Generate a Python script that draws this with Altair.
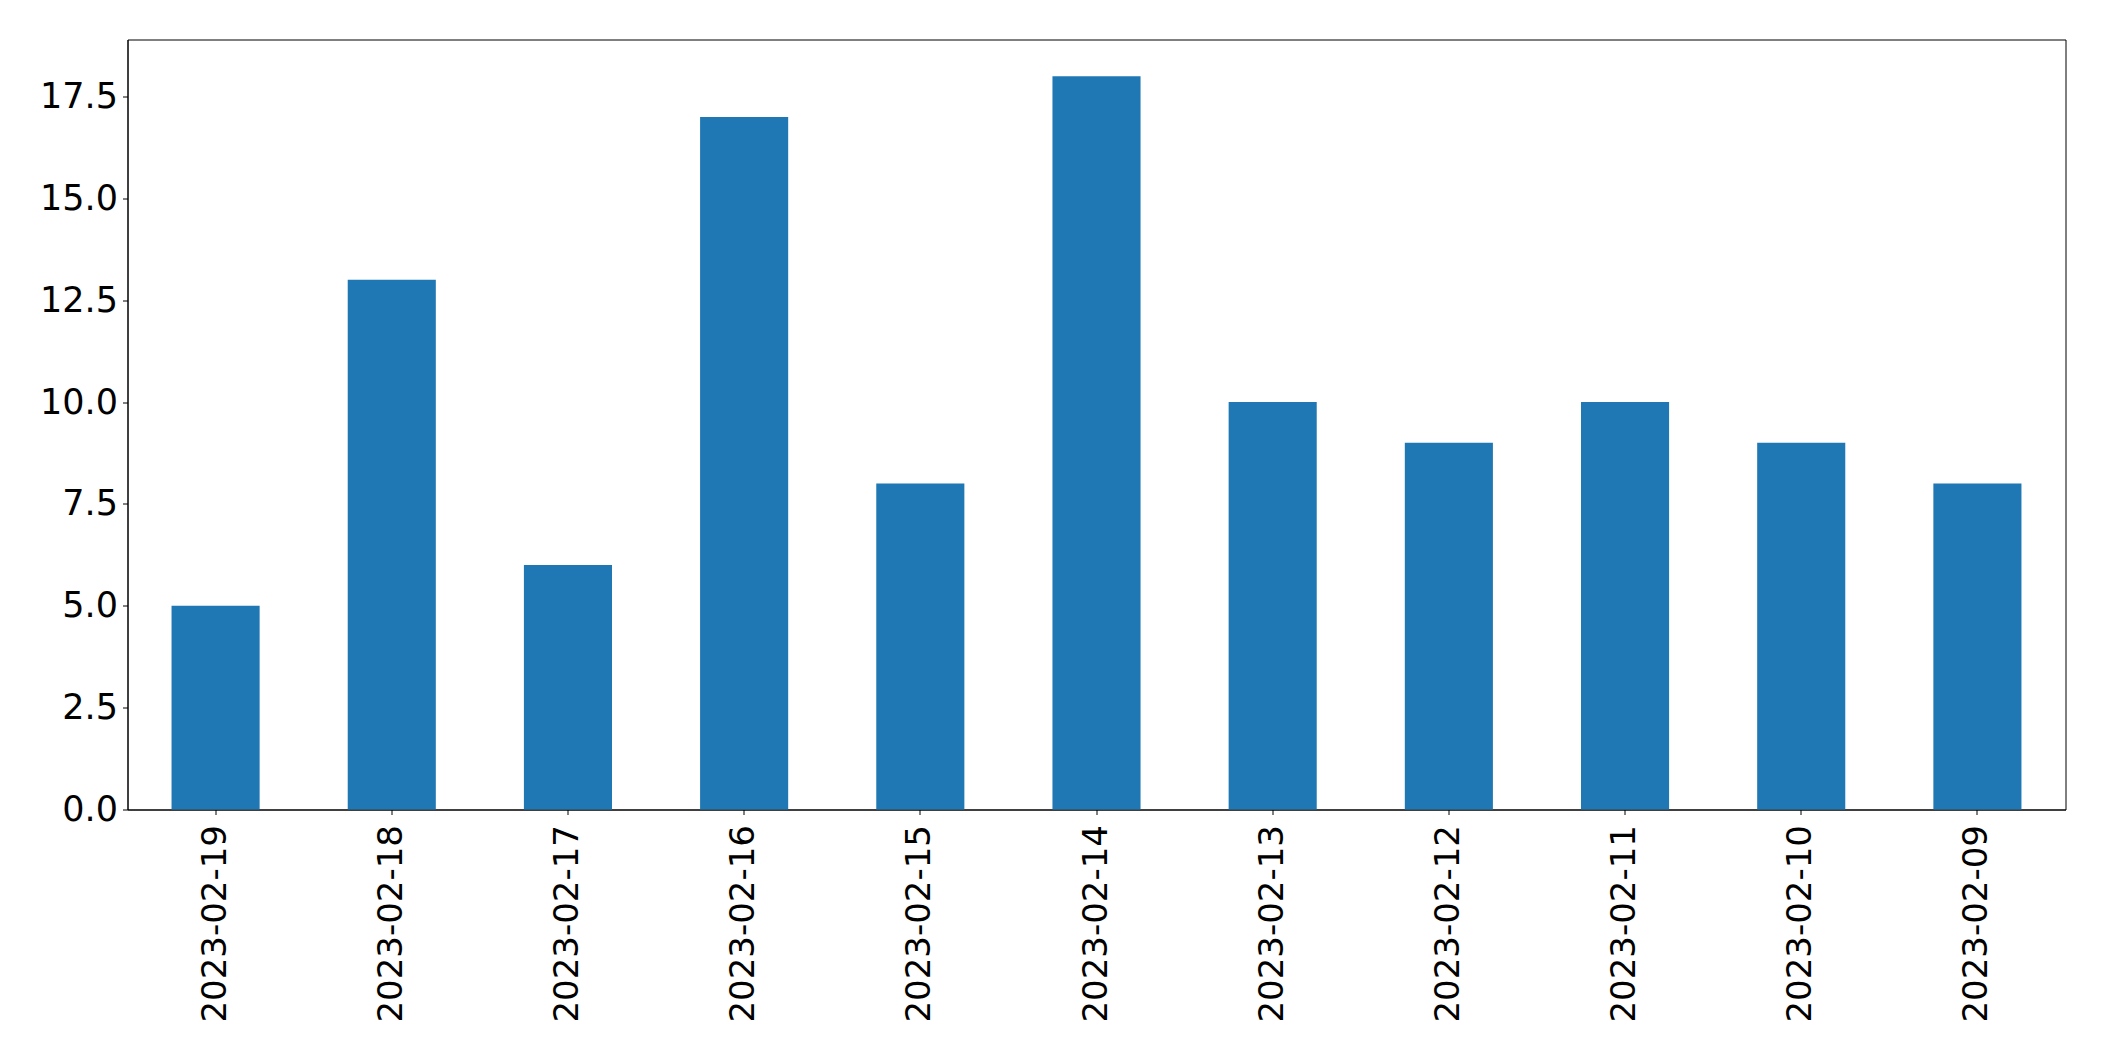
import altair as alt
import pandas as pd

dates = ["2023-02-19", "2023-02-18", "2023-02-17", "2023-02-16", "2023-02-15",
         "2023-02-14", "2023-02-13", "2023-02-12", "2023-02-11", "2023-02-10",
         "2023-02-09"]
counts = [5, 13, 6, 17, 8, 18, 10, 9, 10, 9, 8]
y_ticks = [0, 2.5, 5, 7.5, 10, 12.5, 15, 17.5]

df = pd.DataFrame({"date": dates, "count": counts})

chart = alt.Chart(df).mark_bar(color="#1f77b4").encode(
    x=alt.X("date:N", sort=None, title=None,
            scale=alt.Scale(paddingInner=0.5, paddingOuter=0.25),
            axis=alt.Axis(labelAngle=270, labelAlign="right", labelBaseline="middle",
                          labelFontSize=34, labelFont="DejaVu Sans", labelColor="black",
                          labelLimit=500,
                          tickSize=5, tickColor="black", domainColor="black",
                          labelPadding=10, grid=False)),
    y=alt.Y("count:Q", title=None,
            scale=alt.Scale(domain=[0, 18.9], nice=False, zero=True),
            axis=alt.Axis(values=y_ticks, format=".1f", labelFontSize=35,
                          labelFont="DejaVu Sans", labelColor="black",
                          tickSize=5, tickColor="black", domainColor="black",
                          labelPadding=5, grid=False)),
).properties(
    width=1938, height=770,
    autosize=alt.AutoSizeParams(type="none"),
    padding={"left": 119.5, "top": 31.5, "right": 20, "bottom": 230},
).configure(
    background="white"
).configure_view(
    stroke="black", strokeWidth=1
)

chart.save("out.html", embed_options={"renderer": "svg", "actions": False})
